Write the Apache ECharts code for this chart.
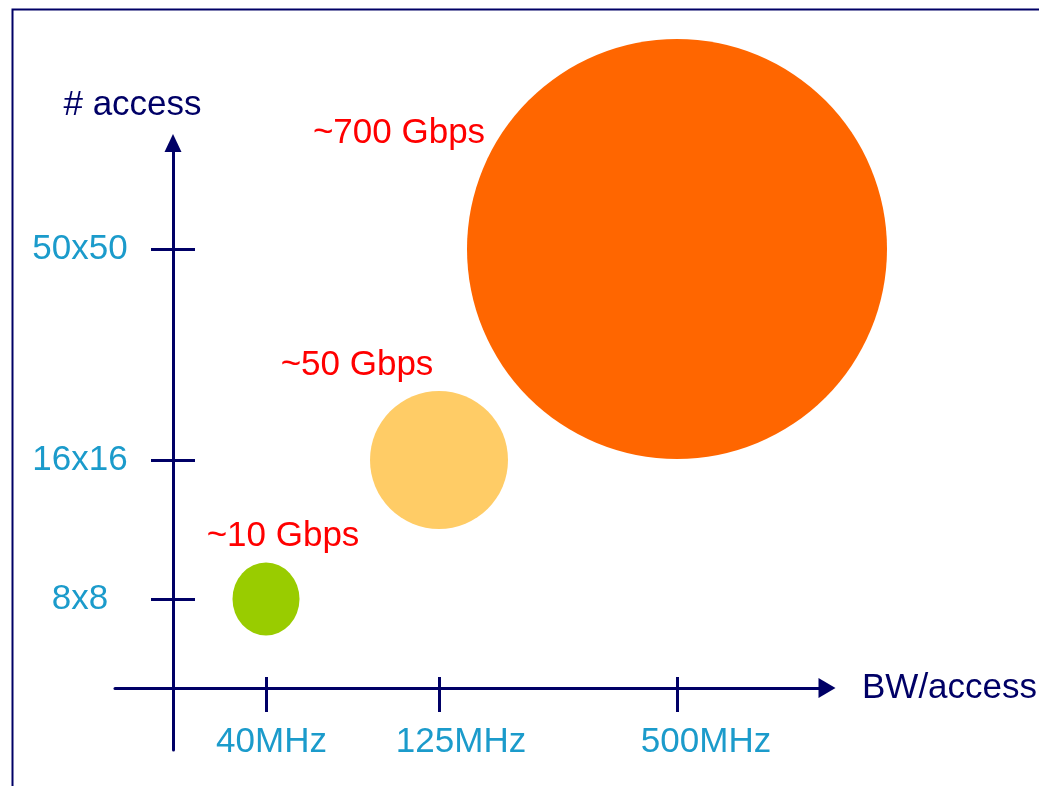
<!DOCTYPE html>
<html>
<head>
<meta charset="utf-8">
<script src="https://cdn.jsdelivr.net/npm/echarts@6/dist/echarts.min.js"></script>
<style>
  html, body { margin: 0; padding: 0; background: #fff; }
  #chart { width: 1039px; height: 786px; }
</style>
</head>
<body>
<div id="chart"></div>
<script>
// categories on each axis
var xLabels = ['40MHz', '125MHz', '500MHz'];
var yLabels = ['8x8', '16x16', '50x50'];
// where each category sits along its axis (axis units)
var xTickPos = [0.93, 2.66, 5.04];
var yTickPos = [0.89, 2.28, 4.39];
// throughput of each bubble (one per x / y pair)
var rateLabels = ['~10 Gbps', '~50 Gbps', '~700 Gbps'];

// layout / style only
var xLabelPos = [0.985, 2.88, 5.33];
var bubbleSize = [[67, 73], [138, 138], [420, 420]];
var bubbleColor = ['#99cc00', '#ffcc66', '#ff6600'];
var labelOffset = [[17, -63], [-82, -95], [-278, -116]];

var navy = '#000066';
var tickBlue = '#1b9bcb';
var font = "'Liberation Sans', Arial, sans-serif";

var chart = echarts.init(document.getElementById('chart'));

function pick(list, pos) {
    return function (v) {
        for (var i = 0; i < pos.length; i++) {
            if (Math.abs(pos[i] - v) < 1e-6) return list[i];
        }
        return '';
    };
}

// hidden line so the extra axes still sit on zero
var ghostLine = { onZero: true, lineStyle: { opacity: 0 } };

var option = {
    backgroundColor: '#fff',
    animation: false,
    textStyle: { fontFamily: font },
    graphic: [{
        type: 'rect',
        left: 10, top: 7,
        shape: { width: 1100, height: 900 },
        style: { fill: 'none', stroke: navy, lineWidth: 2 }
    }],
    grid: { left: 115, right: 212, top: 143, bottom: 36, outerBoundsMode: 'none', containLabel: false },
    xAxis: [{
        type: 'value',
        position: 'bottom',
        min: -0.58, max: 6.54,
        name: 'BW/access',
        nameLocation: 'end',
        nameGap: 35,
        nameTextStyle: { color: navy, fontSize: 35, fontFamily: font },
        axisLine: {
            onZero: true,
            symbol: ['none', 'triangle'],
            symbolSize: [20, 17],
            lineStyle: { color: navy, width: 3 }
        },
        axisTick: {
            customValues: xTickPos,
            length: 24,
            lineStyle: { color: navy, width: 3 }
        },
        axisLabel: {
            customValues: xLabelPos,
            formatter: pick(xLabels, xLabelPos),
            margin: -25,
            color: tickBlue,
            fontSize: 35,
            fontFamily: font
        },
        splitLine: { show: false }
    }, {
        type: 'value',
        position: 'top',
        min: -0.58, max: 6.54,
        axisLine: ghostLine,
        axisTick: {
            show: true,
            customValues: xTickPos,
            length: 11,
            lineStyle: { color: navy, width: 3 }
        },
        axisLabel: { show: false },
        splitLine: { show: false }
    }],
    yAxis: [{
        type: 'value',
        position: 'left',
        min: -0.62, max: 5.45,
        name: '# access',
        nameLocation: 'end',
        nameGap: 20,
        nameTextStyle: { color: navy, fontSize: 35, fontFamily: font, padding: [0, 81, 0, 0] },
        axisLine: {
            onZero: true,
            symbol: ['none', 'triangle'],
            symbolSize: [17, 18],
            lineStyle: { color: navy, width: 3 }
        },
        axisTick: {
            customValues: yTickPos,
            length: 22,
            lineStyle: { color: navy, width: 3 }
        },
        axisLabel: {
            customValues: yTickPos,
            formatter: pick(yLabels, yTickPos),
            align: 'center',
            margin: 35,
            color: tickBlue,
            fontSize: 35,
            fontFamily: font
        },
        splitLine: { show: false }
    }, {
        type: 'value',
        position: 'right',
        min: -0.62, max: 5.45,
        axisLine: ghostLine,
        axisTick: {
            show: true,
            customValues: yTickPos,
            length: 22,
            lineStyle: { color: navy, width: 3 }
        },
        axisLabel: { show: false },
        splitLine: { show: false }
    }],
    series: [{
        type: 'scatter',
        xAxisIndex: 0,
        yAxisIndex: 0,
        data: xTickPos.map(function (x, i) {
            return {
                value: [x, yTickPos[i]],
                name: rateLabels[i],
                symbolSize: bubbleSize[i],
                itemStyle: { color: bubbleColor[i], opacity: 1 },
                label: {
                    show: true,
                    position: 'inside',
                    offset: labelOffset[i],
                    formatter: '{b}',
                    color: '#ff0000',
                    fontSize: 35,
                    fontFamily: font
                }
            };
        })
    }]
};

chart.setOption(option);
</script>
</body>
</html>
